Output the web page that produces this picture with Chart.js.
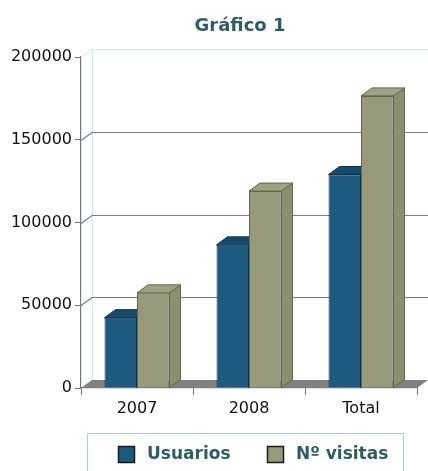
<!DOCTYPE html>
<html>
<head>
<meta charset="utf-8">
<script src="https://cdn.jsdelivr.net/npm/chart.js@4.4.0/dist/chart.umd.min.js"></script>
<style>
  html, body { margin: 0; padding: 0; background: #fff; }
</style>
</head>
<body>
<canvas id="chart" width="428" height="471"></canvas>
<script>
const titleText = 'Gráfico 1';
const categories = ['2007', '2008', 'Total'];
const seriesNames = ['Usuarios', 'Nº visitas'];
const usuarios = [42500, 86500, 129000];
const visitas = [57500, 119000, 176500];
const yTicks = [0, 50000, 100000, 150000, 200000];

const DX = 11, DY = -8;
const FONT = '"DejaVu Sans", Verdana, sans-serif';
const TEAL = '#2e5e63';

const faces = [
  { front: '#1c5a80', top: '#174b6b', side: '#154562', edge: '#0f3249' },
  { front: '#969a7a', top: '#9ea283', side: '#8b8f70', edge: '#62664f' }
];

function poly(ctx, pts, fill, stroke) {
  ctx.beginPath();
  ctx.moveTo(pts[0][0], pts[0][1]);
  for (let i = 1; i < pts.length; i++) ctx.lineTo(pts[i][0], pts[i][1]);
  ctx.closePath();
  if (fill) { ctx.fillStyle = fill; ctx.fill(); }
  if (stroke) { ctx.strokeStyle = stroke; ctx.lineWidth = 1; ctx.stroke(); }
}

// back wall, floor and the top/right faces of every bar
const depth3d = {
  id: 'depth3d',
  beforeDatasetsDraw(chart) {
    const { ctx, chartArea: a, scales: { y } } = chart;
    const W = chart.width;
    ctx.save();

    // back wall frame
    ctx.strokeStyle = '#d6e6ee';
    ctx.lineWidth = 1;
    ctx.beginPath();
    ctx.moveTo(a.left + DX + 0.5, a.bottom + DY);
    ctx.lineTo(a.left + DX + 0.5, a.top + DY + 0.5);
    ctx.lineTo(W, a.top + DY + 0.5);
    ctx.moveTo(a.left, a.top + 0.5);
    ctx.lineTo(a.left + DX, a.top + DY + 0.5);
    ctx.stroke();

    // grid lines on the back wall
    ctx.strokeStyle = '#7a7a80';
    ctx.lineWidth = 1.2;
    yTicks.forEach(v => {
      if (v === 0 || v === yTicks[yTicks.length - 1]) return;
      const py = Math.round(y.getPixelForValue(v)) + 0.5;
      ctx.beginPath();
      ctx.moveTo(a.left, py);
      ctx.lineTo(a.left + DX, py + DY);
      ctx.lineTo(W, py + DY);
      ctx.stroke();
    });

    // floor
    const b = a.bottom;
    poly(ctx, [[a.left, b], [a.left + DX, b + DY], [W, b + DY], [a.right, b]], '#7f8080', null);

    // bar depth faces
    chart.data.datasets.forEach((ds, di) => {
      const f = faces[di];
      chart.getDatasetMeta(di).data.forEach(bar => {
        const l = bar.x - bar.width / 2, r = bar.x + bar.width / 2;
        const t = bar.y, bt = bar.base;
        poly(ctx, [[r, t], [r + DX, t + DY], [r + DX, bt + DY], [r, bt]], f.side, f.edge);
        poly(ctx, [[l, t], [l + DX, t + DY], [r + DX, t + DY], [r, t]], f.top, f.edge);
      });
    });
    ctx.restore();
  },
  afterDraw(chart) {
    const { ctx } = chart;
    ctx.save();

    // title
    ctx.font = 'bold 18px ' + FONT;
    ctx.fillStyle = TEAL;
    ctx.textAlign = 'center';
    ctx.textBaseline = 'middle';
    ctx.fillText(titleText, 240, 26);

    // legend box
    ctx.strokeStyle = '#a9cde0';
    ctx.lineWidth = 1;
    ctx.strokeRect(87.5, 433.5, 316, 60);

    ctx.font = 'bold 17px ' + FONT;
    ctx.textAlign = 'left';
    const boxX = [118, 267];
    chart.data.datasets.forEach((ds, i) => {
      const x = boxX[i];
      ctx.fillStyle = ds.backgroundColor;
      ctx.fillRect(x, 446, 17, 17);
      ctx.strokeStyle = '#1a1a1a';
      ctx.lineWidth = 1.5;
      ctx.strokeRect(x + 0.5, 446.5, 16, 16);
      ctx.fillStyle = TEAL;
      ctx.fillText(ds.label, x + 29, 455);
    });
    ctx.restore();
  }
};

new Chart(document.getElementById('chart'), {
  type: 'bar',
  data: {
    labels: categories,
    datasets: [
      { label: seriesNames[0], data: usuarios, backgroundColor: faces[0].front, borderColor: faces[0].edge, borderWidth: 1 },
      { label: seriesNames[1], data: visitas, backgroundColor: faces[1].front, borderColor: faces[1].edge, borderWidth: 1 }
    ]
  },
  options: {
    responsive: false,
    animation: false,
    layout: { padding: { top: 57, right: 11, bottom: 43, left: 0 } },
    datasets: { bar: { categoryPercentage: 0.58, barPercentage: 1.0 } },
    plugins: {
      legend: { display: false },
      title: { display: false },
      tooltip: { enabled: false }
    },
    scales: {
      x: {
        afterFit: s => { s.height = 40; },
        grid: { drawOnChartArea: false, tickLength: 7, color: '#777', offset: true },
        border: { color: '#777', width: 1.2 },
        ticks: { color: '#111', padding: 4, font: { family: FONT, size: 16 } }
      },
      y: {
        min: 0,
        max: 200000,
        afterFit: s => { s.width = 81; },
        afterBuildTicks: s => { s.ticks = yTicks.map(v => ({ value: v })); },
        grid: { drawOnChartArea: false, tickLength: 6, color: '#777' },
        border: { color: '#777', width: 1.2 },
        ticks: { color: '#111', padding: 3, font: { family: FONT, size: 16 }, callback: v => String(v) }
      }
    }
  },
  plugins: [depth3d]
});
</script>
</body>
</html>
